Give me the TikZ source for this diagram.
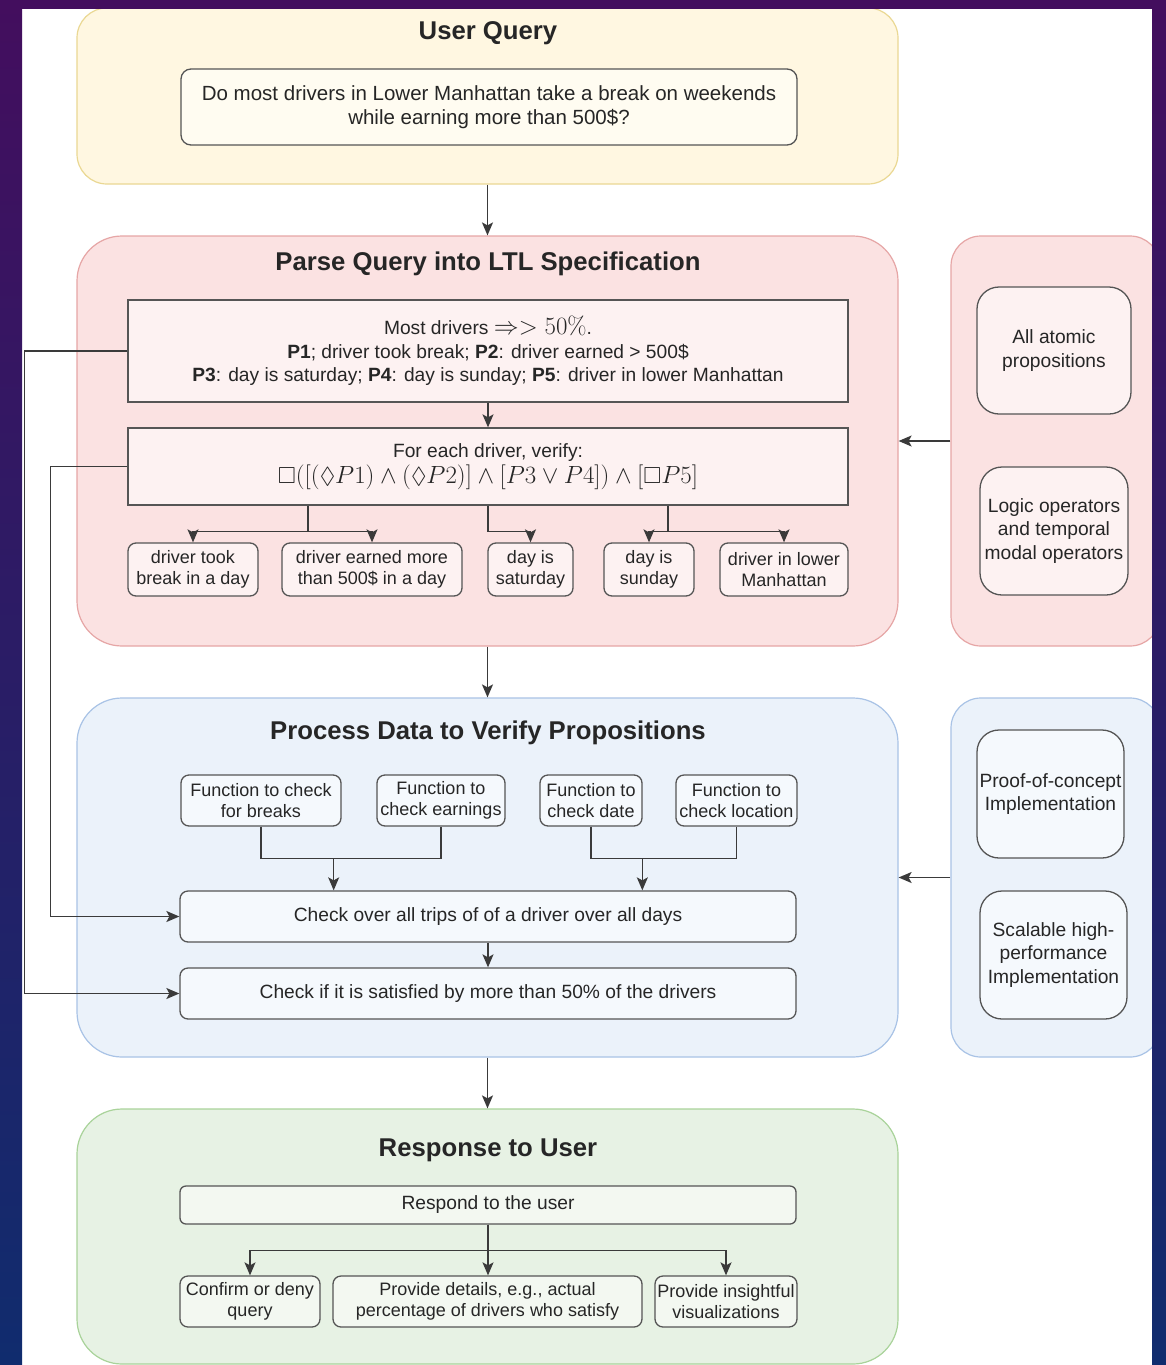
\documentclass[tikz,border=0pt]{standalone}
\usepackage{amsmath,amssymb}
\usepackage[no-math]{fontspec}
\setmainfont{Liberation Sans}
\usetikzlibrary{arrows.meta,calc}
\definecolor{textc}{HTML}{262626}
\definecolor{linec}{HTML}{3A3A3A}
\definecolor{boxc}{HTML}{555555}
\definecolor{yfill}{HTML}{FFF7E1}
\definecolor{ydraw}{HTML}{EAD893}
\definecolor{yin}{HTML}{FFFCF1}
\definecolor{pfill}{HTML}{FBE2E2}
\definecolor{pdraw}{HTML}{E6A6A6}
\definecolor{pin}{HTML}{FDF2F2}
\definecolor{bfill}{HTML}{EBF2FA}
\definecolor{bdraw}{HTML}{A9C3E6}
\definecolor{bin}{HTML}{F5F9FD}
\definecolor{gfill}{HTML}{E7F2E4}
\definecolor{gdraw}{HTML}{A9D39A}
\definecolor{gin}{HTML}{F3F8F1}
\definecolor{frtop}{HTML}{430E5E}
\definecolor{frbot}{HTML}{102C6E}
\begin{document}
\begin{tikzpicture}[x=1pt,y=-1pt,
  every node/.style={font=\fontsize{19.2}{23.5}\selectfont, text=textc},
  small/.style={font=\fontsize{18}{21.5}\selectfont},
  cont/.style={draw=#1draw, fill=#1fill, line width=1.2pt, rounded corners=45pt, inner sep=0pt},
  side/.style={draw=#1draw, fill=#1fill, line width=1.2pt, rounded corners=30pt, inner sep=0pt},
  ibox/.style={draw=boxc, fill=#1in, line width=1.3pt, rounded corners=8pt, align=center, inner sep=0pt},
  sqbox/.style={draw=boxc, fill=#1in, line width=1.3pt, align=center, inner sep=0pt},
  bigbox/.style={draw=boxc, fill=#1in, line width=1.3pt, rounded corners=22pt, align=center, inner sep=0pt},
  ttl/.style={font=\fontsize{25.7}{29}\selectfont\bfseries},
  ln/.style={draw=linec, line width=1.4pt},
  arr/.style={ln, -{Stealth[length=13pt,width=11pt,inset=3pt]}},
]
\useasboundingbox (0,0) rectangle (1166,1365);
\fill[white] (0,0) rectangle (1166,1365);

% ---------- User Query ----------
\node[cont=y, rounded corners=30pt, minimum width=821pt, minimum height=176pt] (Y) at (487.5,96) {};
\node[ttl] (Yt) at (488,33) {User Query};
\node[ibox=y, rounded corners=10pt, minimum width=616pt, minimum height=76pt, font=\fontsize{20.5}{24}\selectfont] (Q) at (489,107)
  {Do most drivers in Lower Manhattan take a break on weekends\\while earning more than 500\$?};

% ---------- Parse ----------
\node[cont=p, minimum width=821pt, minimum height=410pt] (P) at (487.5,441) {};
\node[ttl] (Pt) at (488,264) {Parse Query into LTL Specification};
\node[sqbox=p, minimum width=720pt, minimum height=102pt] (b1) at (488,351)
  {Most drivers {\fontsize{23}{23}\selectfont$\Rightarrow > 50\%$}.\\
   \textbf{P1}; driver took break; \textbf{P2}: driver earned > 500\$\\
   \textbf{P3}: day is saturday; \textbf{P4}: day is sunday; \textbf{P5}: driver in lower Manhattan};
\node[sqbox=p, minimum width=720pt, minimum height=77pt] (b2) at (488,466.5)
  {For each driver, verify:\\[3pt]
   {\fontsize{23.2}{24}\selectfont$\Box([(\Diamond P1)\wedge(\Diamond P2)]\wedge[P3\vee P4])\wedge[\Box P5]$}};
\node[ibox=p, small, minimum width=130pt, minimum height=53pt] (sa) at (193,569.5) {driver took\\break in a day};
\node[ibox=p, small, minimum width=180pt, minimum height=53pt] (sb) at (372,569.5) {driver earned more\\than 500\$ in a day};
\node[ibox=p, small, minimum width=85pt, minimum height=53pt] (sc) at (530.5,569.5) {day is\\saturday};
\node[ibox=p, small, minimum width=90pt, minimum height=53pt] (sd) at (649,569.5) {day is\\sunday};
\node[ibox=p, small, minimum width=128pt, minimum height=53pt] (se) at (784,569.5) {driver in lower\\Manhattan};

\draw[arr] (b1) -- (b2);
\draw[ln] ([xshift=-180pt]b2.south) -- ++(0,26) coordinate (j1);
\draw[arr] (j1) -| (sa.north);
\draw[arr] (j1) -| (sb.north);
\draw[arr] (b2.south) -- ++(0,26) -| (sc.north);
\draw[ln] ([xshift=180pt]b2.south) -- ++(0,26) coordinate (j3);
\draw[arr] (j3) -| (sd.north);
\draw[arr] (j3) -| (se.north);

% right pink panel
\node[side=p, minimum width=209pt, minimum height=410pt] (RP) at (1055.5,441) {};
\node[bigbox=p, minimum width=154pt, minimum height=127pt] (ra) at (1054,350.5) {All atomic\\propositions};
\node[bigbox=p, minimum width=148pt, minimum height=128pt] (rb) at (1054,531) {Logic operators\\and temporal\\modal operators};
\draw[arr] (RP.west) -- (RP.west -| P.east);

% ---------- Process ----------
\node[cont=b, minimum width=821pt, minimum height=359pt] (B) at (487.5,877.5) {};
\node[ttl] (Bt) at (488,733) {Process Data to Verify Propositions};
\node[ibox=b, small, minimum width=160pt, minimum height=51pt] (f1) at (261,800.5) {Function to check\\for breaks};
\node[ibox=b, small, minimum width=128pt, minimum height=51pt] (f2) at (441,800.5) {Function to\\check earnings};
\node[ibox=b, small, minimum width=102pt, minimum height=51pt] (f3) at (591,800.5) {Function to\\check date};
\node[ibox=b, small, minimum width=121pt, minimum height=51pt] (f4) at (736.5,800.5) {Function to\\check location};
\node[ibox=b, minimum width=616pt, minimum height=51pt] (C1) at (488,916.5) {Check over all trips of of a driver over all days};
\node[ibox=b, minimum width=616pt, minimum height=51pt] (C2) at (488,993.5) {Check if it is satisfied by more than 50\% of the drivers};
\coordinate (q1) at ($(C1.north west)!0.25!(C1.north east)$);
\coordinate (q3) at ($(C1.north west)!0.75!(C1.north east)$);
\draw[ln] (f1.south) -- ++(0,32) coordinate (h1) -| (f2.south);
\draw[arr] (h1 -| q1) -- (q1);
\draw[ln] (f3.south) -- ++(0,32) coordinate (h2) -| (f4.south);
\draw[arr] (h2 -| q3) -- (q3);
\draw[arr] (C1) -- (C2);

% right blue panel
\node[side=b, minimum width=209pt, minimum height=359pt] (RB) at (1055.5,877.5) {};
\node[bigbox=b, minimum width=147pt, minimum height=128pt] (pa) at (1050.5,794) {Proof-of-concept\\Implementation};
\node[bigbox=b, minimum width=147pt, minimum height=128pt] (pb) at (1053.5,955) {Scalable high-\\performance\\Implementation};
\draw[arr] (RB.west) -- (RB.west -| B.east);

% left feedback connectors
\draw[arr] (b1.west) -- ++(-103,0) |- (C2.west);
\draw[arr] (b2.west) -- ++(-77,0) |- (C1.west);

% ---------- Response ----------
\node[cont=g, minimum width=821pt, minimum height=255pt] (G) at (487.5,1236.5) {};
\node[ttl] (Gt) at (488,1150) {Response to User};
\node[ibox=g, rounded corners=6pt, minimum width=616pt, minimum height=38pt] (R) at (488,1205) {Respond to the user};
\node[ibox=g, small, minimum width=140pt, minimum height=51pt] (g1) at (250,1301.5) {Confirm or deny\\query};
\node[ibox=g, small, minimum width=309pt, minimum height=51pt] (g2) at (487.5,1301.5) {Provide details, e.g., actual\\percentage of drivers who satisfy};
\node[ibox=g, small, minimum width=142pt, minimum height=51pt] (g3) at (726,1301.5) {Provide insightful\\visualizations};
\draw[ln] (R.south) -- ++(0,26) coordinate (h3);
\draw[arr] (R.south) -- (R.south |- g2.north);
\draw[arr] (h3) -| (g1.north);
\draw[arr] (h3) -| (g3.north);

% ---------- inter-stage arrows ----------
\draw[arr] (Y.south) -- (P.north);
\draw[arr] (P.south) -- (B.north);
\draw[arr] (B.south) -- (G.north);

% ---------- frame ----------
\fill[frtop] (0,0) rectangle (1166,9);
\shade[top color=frtop, bottom color=frbot] (0,0) rectangle (22,1365);
\shade[top color=frtop, bottom color=frbot] (1152,0) rectangle (1166,1365);
\end{tikzpicture}
\end{document}
